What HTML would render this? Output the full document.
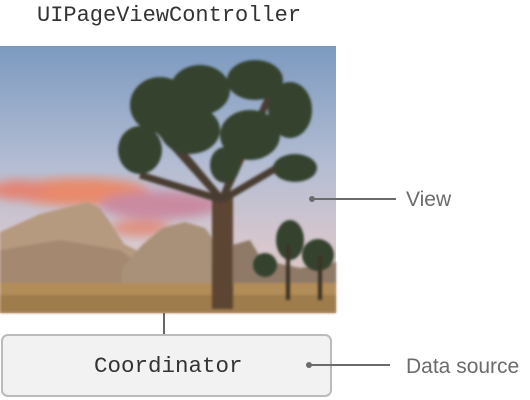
<!DOCTYPE html>
<html><head><meta charset="utf-8"><style>
html,body{margin:0;padding:0;background:#fff;width:530px;height:400px;overflow:hidden;position:relative}
.t{position:absolute;font-family:"Liberation Mono",monospace;color:#333;line-height:1}
.l{position:absolute;font-family:"Liberation Sans",sans-serif;color:#6b6b6b;font-size:21px;line-height:1}
</style></head><body>
<div class="t" style="left:37px;top:5px;font-size:22px;">UIPageViewController</div>
<svg width="530" height="400" style="position:absolute;left:0;top:0">
<defs>
<linearGradient id="sky" x1="0" y1="0" x2="0" y2="1">
<stop offset="0" stop-color="#7c9ac0"/><stop offset="0.45" stop-color="#b4bdd3"/><stop offset="0.75" stop-color="#d8c7cd"/><stop offset="1" stop-color="#d9c2b8"/>
</linearGradient>
<filter id="b"><feGaussianBlur stdDeviation="5"/></filter>
<filter id="b2"><feGaussianBlur stdDeviation="1.2"/></filter>
</defs>
<rect x="0" y="46" width="336" height="267" fill="url(#sky)"/>
<g filter="url(#b)">
<ellipse cx="80" cy="192" rx="70" ry="14" fill="#e98a6c"/>
<ellipse cx="160" cy="205" rx="60" ry="14" fill="#c98aa0"/>
<ellipse cx="20" cy="190" rx="30" ry="10" fill="#e48474"/>
<ellipse cx="140" cy="228" rx="30" ry="8" fill="#e09080"/>
</g>
<g filter="url(#b2)">
<polygon points="0,232 40,214 88,202 100,208 110,222 124,244 140,252 140,290 0,290" fill="#b59a80"/>
<polygon points="0,250 60,240 120,250 140,265 140,290 0,290" fill="#a48870"/>
<polygon points="122,268 142,245 162,228 185,222 205,228 214,240 215,292 122,292" fill="#a99179"/>
<polygon points="232,245 250,240 262,260 300,268 336,262 336,292 232,292" fill="#8f7a68"/>
<rect x="0" y="283" width="336" height="30" fill="#b38d58"/>
<rect x="0" y="295" width="336" height="18" fill="#9f7c4c"/>
</g>
<g fill="#34432f" filter="url(#b2)">
<rect x="212" y="195" width="21" height="114" fill="#5b4432"/>
<path d="M222 200 L180 150 M222 200 L150 120 M222 200 L250 130 M222 200 L290 160 M222 200 L140 175 M222 200 L270 95" stroke="#4a3c30" stroke-width="7" fill="none"/>
<ellipse cx="160" cy="105" rx="30" ry="28"/>
<ellipse cx="200" cy="90" rx="30" ry="25"/>
<ellipse cx="255" cy="80" rx="28" ry="20"/>
<ellipse cx="290" cy="110" rx="22" ry="28"/>
<ellipse cx="140" cy="150" rx="22" ry="24"/>
<ellipse cx="190" cy="130" rx="30" ry="24"/>
<ellipse cx="250" cy="135" rx="30" ry="25"/>
<ellipse cx="295" cy="168" rx="22" ry="14"/>
<ellipse cx="225" cy="165" rx="15" ry="18"/>
<ellipse cx="290" cy="240" rx="14" ry="20"/>
<ellipse cx="318" cy="255" rx="16" ry="16"/>
<ellipse cx="265" cy="265" rx="12" ry="12"/>
<rect x="286" y="245" width="4" height="55" fill="#3a3128"/>
<rect x="318" y="255" width="4" height="45" fill="#3a3128"/>
</g>
<line x1="164" y1="313" x2="164" y2="335" stroke="#666" stroke-width="2"/>
<rect x="2" y="335" width="329" height="61" rx="6" fill="#f2f2f2" stroke="#bbb" stroke-width="2"/>
<circle cx="312" cy="199" r="3" fill="#6b6b6b"/>
<line x1="312" y1="199" x2="396" y2="199" stroke="#6b6b6b" stroke-width="2"/>
<circle cx="309" cy="365" r="3" fill="#6b6b6b"/>
<line x1="309" y1="365" x2="390" y2="365" stroke="#6b6b6b" stroke-width="2"/>
</svg>
<div class="t" style="left:94px;top:355px;font-size:22.5px;">Coordinator</div>
<div class="l" style="left:406px;top:189px;">View</div>
<div class="l" style="left:406px;top:356px;">Data source</div>
</body></html>
